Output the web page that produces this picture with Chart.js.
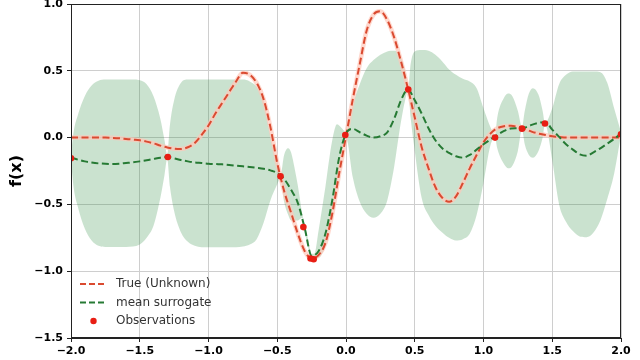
<!DOCTYPE html>
<html>
<head>
<meta charset="utf-8">
<script src="https://cdn.jsdelivr.net/npm/chart.js@4.4.1/dist/chart.umd.min.js"></script>
<style>
html,body{margin:0;padding:0;background:#fff;}
#c{display:block;}
</style>
</head>
<body>
<canvas id="c" width="640" height="360"></canvas>
<script>
// ---- data ----
const xs = [-2.00,-1.95,-1.90,-1.85,-1.80,-1.75,-1.70,-1.65,-1.60,-1.55,-1.50,-1.45,-1.40,-1.35,-1.30,-1.25,-1.20,-1.15,-1.10,-1.05,
  -1.00,-0.95,-0.90,-0.85,-0.80,-0.75,-0.70,-0.65,-0.60,-0.55,-0.50,-0.45,-0.40,-0.35,-0.30,-0.25,-0.20,-0.15,-0.10,-0.05,
  0.00,0.05,0.10,0.15,0.20,0.25,0.30,0.35,0.40,0.45,0.50,0.55,0.60,0.65,0.70,0.75,0.80,0.85,0.90,0.95,
  1.00,1.05,1.10,1.15,1.20,1.25,1.30,1.35,1.40,1.45,1.50,1.55,1.60,1.65,1.70,1.75,1.80,1.85,1.90,1.95,2.00];

const trueVals = [0.00,0.00,0.00,0.00,0.00,0.00,-0.002,-0.005,-0.01,-0.015,-0.02,-0.03,-0.043,-0.06,-0.074,-0.083,-0.085,-0.072,-0.04,0.02,
  0.09,0.18,0.26,0.34,0.42,0.485,0.47,0.41,0.29,0.08,-0.19,-0.40,-0.56,-0.72,-0.85,-0.905,-0.88,-0.79,-0.57,-0.27,
  0.01,0.29,0.55,0.80,0.92,0.945,0.88,0.75,0.57,0.37,0.15,-0.07,-0.23,-0.37,-0.45,-0.48,-0.44,-0.34,-0.23,-0.13,
  -0.035,0.03,0.07,0.085,0.088,0.08,0.065,0.045,0.03,0.02,0.01,0.005,0.00,0.00,0.00,0.00,0.00,0.00,0.00,0.00,0.00];

const meanVals = [-0.15,-0.165,-0.178,-0.187,-0.193,-0.196,-0.197,-0.195,-0.19,-0.185,-0.178,-0.17,-0.16,-0.15,-0.145,-0.155,-0.168,-0.178,-0.186,-0.19,
  -0.195,-0.198,-0.20,-0.205,-0.21,-0.215,-0.22,-0.226,-0.233,-0.245,-0.265,-0.31,-0.39,-0.49,-0.68,-0.885,-0.85,-0.72,-0.47,-0.15,
  0.03,0.065,0.04,0.015,0.00,0.01,0.04,0.14,0.28,0.36,0.28,0.18,0.07,-0.02,-0.08,-0.115,-0.14,-0.15,-0.13,-0.09,
  -0.05,-0.015,0.02,0.05,0.068,0.07,0.075,0.095,0.11,0.115,0.06,0.005,-0.05,-0.09,-0.125,-0.135,-0.11,-0.08,-0.045,-0.01,0.03];

const bandX = [-2.00,-1.98,-1.95,-1.90,-1.85,-1.80,-1.75,-1.70,-1.65,-1.60,-1.55,-1.50,-1.45,-1.40,-1.35,-1.32,-1.30,
  -1.28,-1.25,-1.20,-1.15,-1.10,-1.05,-1.00,-0.95,-0.90,-0.85,-0.80,-0.75,-0.70,-0.65,-0.60,-0.55,-0.50,-0.476,
  -0.45,-0.42,-0.40,-0.37,-0.35,-0.32,-0.28,-0.25,-0.23,
  -0.20,-0.15,-0.10,-0.065,-0.03,0.00,
  0.05,0.10,0.15,0.20,0.25,0.30,0.35,0.40,0.43,0.453,
  0.47,0.50,0.55,0.60,0.65,0.70,0.75,0.80,0.85,0.90,0.95,1.00,1.05,1.084,
  1.10,1.15,1.18,1.21,1.25,1.28,
  1.30,1.33,1.36,1.40,1.43,1.447,
  1.50,1.55,1.60,1.65,1.70,1.75,1.80,1.85,1.90,1.95,2.00];

const bandUpper = [-0.13,0.05,0.17,0.31,0.39,0.425,0.434,0.434,0.434,0.434,0.434,0.43,0.40,0.31,0.14,-0.02,-0.13,
  0.10,0.28,0.41,0.434,0.434,0.434,0.434,0.434,0.434,0.434,0.434,0.434,0.42,0.38,0.28,0.02,-0.20,-0.28,
  -0.13,-0.08,-0.11,-0.25,-0.36,-0.56,-0.74,-0.87,-0.87,
  -0.70,-0.37,-0.02,0.10,0.07,0.04,
  0.25,0.40,0.52,0.58,0.62,0.645,0.65,0.60,0.50,0.37,
  0.55,0.645,0.655,0.65,0.62,0.57,0.51,0.47,0.44,0.42,0.37,0.22,0.08,0.02,
  0.15,0.30,0.33,0.31,0.20,0.08,
  0.20,0.33,0.37,0.32,0.20,0.11,
  0.22,0.40,0.47,0.495,0.495,0.495,0.495,0.49,0.41,0.22,0.04];

const bandLower = [-0.17,-0.38,-0.52,-0.68,-0.77,-0.81,-0.818,-0.818,-0.818,-0.818,-0.815,-0.80,-0.75,-0.66,-0.45,-0.28,-0.16,
  -0.37,-0.55,-0.71,-0.78,-0.81,-0.82,-0.82,-0.82,-0.82,-0.82,-0.82,-0.815,-0.80,-0.76,-0.64,-0.47,-0.35,-0.30,
  -0.48,-0.58,-0.62,-0.62,-0.62,-0.60,-0.80,-0.90,-0.89,
  -0.90,-0.80,-0.55,-0.35,-0.10,0.00,
  -0.30,-0.48,-0.57,-0.60,-0.57,-0.47,-0.22,0.12,0.28,0.35,
  0.15,-0.10,-0.45,-0.58,-0.66,-0.71,-0.75,-0.77,-0.76,-0.72,-0.58,-0.34,-0.06,0.00,
  -0.08,-0.20,-0.23,-0.21,-0.10,0.06,
  -0.05,-0.13,-0.15,-0.10,0.00,0.10,
  -0.17,-0.50,-0.63,-0.70,-0.74,-0.745,-0.71,-0.62,-0.46,-0.27,0.02];

const obsX = [-2.0,-1.296,-0.476,-0.31,-0.258,-0.235,-0.005,0.453,1.084,1.28,1.447,2.0];
const obsY = [-0.155,-0.145,-0.29,-0.67,-0.905,-0.91,0.02,0.36,0.0,0.067,0.105,0.025];

const yTicks = [-1.5,-1.0,-0.5,0.0,0.5,1.0];
const xTicks = [-2.0,-1.5,-1.0,-0.5,0.0,0.5,1.0,1.5,2.0];
const legendLabels = ['True (Unknown)','mean surrogate','Observations'];

// ---- build ----
const pts = (X, Y) => X.map((x, i) => ({x: x, y: Y[i]}));
const RED = 'rgb(218,74,48)';
const GREEN = 'rgb(38,122,52)';
const DOT = 'rgb(232,30,20)';
const FONT = '"DejaVu Sans", "Liberation Sans", sans-serif';

const fmt = v => (v < 0 ? '\u2212' : '') + Math.abs(v).toFixed(1);

const frameAndLegend = {
  id: 'frameAndLegend',
  afterDraw(chart) {
    const {ctx, chartArea: a} = chart;
    ctx.save();
    ctx.strokeStyle = '#222';
    ctx.lineWidth = 1;
    ctx.strokeRect(a.left + 0.5, a.top + 0.5, a.right - a.left - 1, a.bottom - a.top - 1);
    // legend
    const x0 = a.left + 9, x1 = a.left + 36, tx = a.left + 45;
    const rows = [a.top + 280, a.top + 298.5, a.top + 317];
    ctx.font = '12px ' + FONT;
    ctx.textBaseline = 'middle';
    ctx.fillStyle = '#333';
    ctx.lineWidth = 2;
    ctx.setLineDash([6, 3]);
    ctx.strokeStyle = RED;
    ctx.beginPath(); ctx.moveTo(x0, rows[0]); ctx.lineTo(x1, rows[0]); ctx.stroke();
    ctx.strokeStyle = GREEN;
    ctx.beginPath(); ctx.moveTo(x0, rows[1]); ctx.lineTo(x1, rows[1]); ctx.stroke();
    ctx.setLineDash([]);
    ctx.fillStyle = DOT;
    ctx.beginPath(); ctx.arc((x0 + x1) / 2, rows[2], 3.2, 0, Math.PI * 2); ctx.fill();
    ctx.fillStyle = '#333';
    legendLabels.forEach((t, i) => ctx.fillText(t, tx, rows[i]));
    ctx.restore();
  }
};

new Chart(document.getElementById('c'), {
  type: 'line',
  data: {
    datasets: [
      {label: legendLabels[2], data: pts(obsX, obsY), showLine: false, pointRadius: 3.3, pointBackgroundColor: DOT, pointBorderWidth: 0, pointBorderColor: DOT},
      {label: legendLabels[1], data: pts(xs, meanVals), borderColor: GREEN, borderWidth: 2, borderDash: [7, 3.5], pointRadius: 0, cubicInterpolationMode: 'monotone', fill: false},
      {label: legendLabels[0], data: pts(xs, trueVals), borderColor: RED, borderWidth: 2, borderDash: [7, 3.5], pointRadius: 0, cubicInterpolationMode: 'monotone', fill: false},
      {label: 'halo', data: pts(xs, trueVals), borderColor: 'rgba(255,200,185,0.7)', borderWidth: 4.5, pointRadius: 0, cubicInterpolationMode: 'monotone', fill: false},
      {label: 'upper', data: pts(bandX, bandUpper), borderWidth: 0, borderColor: 'rgba(0,0,0,0)', pointRadius: 0, cubicInterpolationMode: 'monotone', fill: '+1', backgroundColor: 'rgba(45,140,65,0.25)'},
      {label: 'lower', data: pts(bandX, bandLower), borderWidth: 0, borderColor: 'rgba(0,0,0,0)', pointRadius: 0, cubicInterpolationMode: 'monotone', fill: false}
    ]
  },
  options: {
    responsive: false,
    animation: false,
    devicePixelRatio: 1,
    layout: {padding: {top: 3, right: 19, left: 0, bottom: 0}},
    plugins: {legend: {display: false}, tooltip: {enabled: false}},
    scales: {
      x: {
        type: 'linear', min: -2, max: 2,
        afterBuildTicks: s => { s.ticks = xTicks.map(v => ({value: v})); },
        afterFit: s => { s.height = 22; s.paddingLeft = 0; s.paddingRight = 0; },
        ticks: {callback: v => fmt(v), color: '#000', font: {family: FONT, size: 11, weight: 'bold'}, maxRotation: 0, autoSkip: false, padding: 3},
        grid: {color: 'rgb(206,206,206)', lineWidth: 1, tickColor: '#222', tickLength: 4},
        border: {display: true, color: '#222'}
      },
      y: {
        type: 'linear', min: -1.5, max: 1.0,
        afterBuildTicks: s => { s.ticks = yTicks.map(v => ({value: v})); },
        afterFit: s => { s.width = 71; s.paddingTop = 0; s.paddingBottom = 0; },
        ticks: {callback: v => fmt(v), color: '#000', font: {family: FONT, size: 11, weight: 'bold'}, padding: 4},
        grid: {color: 'rgb(206,206,206)', lineWidth: 1, tickColor: '#222', tickLength: 4},
        border: {display: true, color: '#222'},
        title: {display: true, text: 'f(x)', color: '#000', font: {family: FONT, size: 16, weight: 'bold'}, padding: {top: 7, bottom: 0}}
      }
    }
  },
  plugins: [frameAndLegend]
});
</script>
</body>
</html>
